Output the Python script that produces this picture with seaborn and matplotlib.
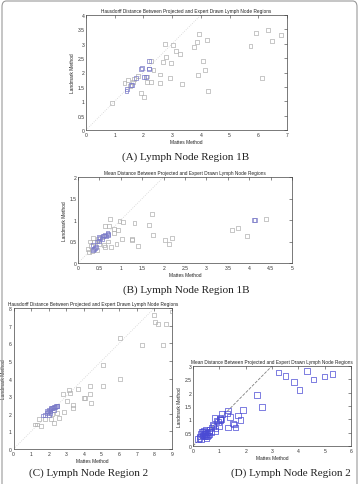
import numpy as np
import pandas as pd
import matplotlib
matplotlib.use('Agg')
import matplotlib.pyplot as plt
import seaborn as sns
from matplotlib.patches import FancyBboxPatch

# ---- data ----
# (A) Hausdorff, region 1B
a_gray_x = [0.91, 1.34, 1.47, 1.52, 1.64, 1.67, 1.82, 1.91, 2.02, 2.11, 2.11, 2.26, 2.26, 2.35, 2.59, 2.59,
            2.68, 2.76, 2.80, 2.91, 2.95, 3.04, 3.12, 3.28, 3.35, 3.76, 3.88, 3.91, 3.94, 4.08, 4.16, 4.21,
            4.24, 5.73, 5.92, 6.12, 6.33, 6.47, 6.80]
a_gray_y = [0.95, 1.63, 1.74, 1.54, 1.66, 1.76, 1.89, 1.28, 1.14, 1.86, 1.68, 1.68, 2.40, 2.09, 1.93, 1.62,
            2.37, 2.99, 2.53, 1.81, 2.32, 2.96, 2.75, 2.64, 1.61, 2.90, 3.06, 1.92, 3.34, 2.41, 2.09, 3.13,
            1.35, 2.91, 3.36, 1.81, 3.47, 3.11, 3.30]
a_blue_x = [1.41, 1.43, 1.60, 1.57, 1.73, 1.93, 1.94, 2.02, 2.10, 2.18, 2.19, 2.21]
a_blue_y = [1.37, 1.41, 1.57, 1.55, 1.81, 2.11, 2.15, 1.83, 1.84, 2.40, 2.14, 2.11]

# (B) mean distance, region 1B
b_gray_x = [0.75, 0.97, 1.06, 1.32, 1.66, 1.72, 1.76, 1.26, 0.90, 1.03, 1.27, 1.41, 0.78, 0.62, 0.73, 0.84,
            0.94, 0.85, 2.04, 2.12, 2.19, 3.60, 3.74, 3.95, 4.39, 0.23, 0.30, 0.32, 0.26, 0.60, 0.64, 0.47,
            0.34, 0.38, 0.55, 0.50, 0.28, 0.70, 0.45]
b_gray_y = [1.02, 0.98, 0.95, 0.92, 0.88, 1.13, 0.66, 0.55, 0.45, 0.56, 0.54, 0.40, 0.38, 0.85, 0.85, 0.80,
            0.76, 0.70, 0.53, 0.45, 0.59, 0.77, 0.82, 0.62, 1.03, 0.32, 0.40, 0.27, 0.25, 0.42, 0.38, 0.56,
            0.58, 0.49, 0.60, 0.45, 0.50, 0.50, 0.30]
b_blue_x = [0.69, 0.71, 0.70, 0.60, 0.65, 0.55, 0.50, 0.45, 0.40, 0.38, 0.42, 0.35, 0.48, 0.52, 0.58, 0.62,
            0.35, 4.12, 4.14]
b_blue_y = [0.69, 0.68, 0.66, 0.64, 0.62, 0.55, 0.52, 0.50, 0.35, 0.33, 0.37, 0.30, 0.60, 0.58, 0.62, 0.66,
            0.42, 1.01, 1.00]

# (C) Hausdorff, region 2
c_gray_x = [1.22, 1.35, 1.47, 1.56, 1.77, 2.11, 2.32, 2.57, 2.79, 2.85, 3.02, 3.17, 3.21, 3.40, 3.40, 3.68,
            4.00, 4.08, 4.35, 4.37, 4.39, 5.09, 5.10, 6.03, 6.03, 7.30, 7.97, 8.04, 8.23, 8.51, 8.66, 8.98,
            2.20, 2.45]
c_gray_y = [1.39, 1.39, 1.68, 1.33, 1.68, 1.70, 1.47, 1.78, 3.10, 2.10, 2.70, 3.33, 3.20, 2.50, 2.30, 3.40,
            2.90, 2.90, 3.55, 3.10, 2.60, 3.60, 4.76, 3.97, 6.30, 5.88, 7.59, 7.23, 7.07, 5.88, 7.07, 7.80,
            2.00, 2.05]
c_blue_x = [1.70, 1.80, 1.88, 1.95, 2.00, 2.05, 2.10, 2.15, 2.20, 2.25, 2.30, 2.35, 2.40, 2.45, 2.50, 1.90,
            2.10, 2.00, 2.28]
c_blue_y = [1.90, 1.95, 2.05, 2.10, 2.20, 2.15, 2.25, 2.30, 2.30, 2.35, 2.40, 2.40, 2.45, 2.45, 2.45, 2.15,
            2.05, 1.95, 2.20]

# (D) mean distance, region 2
d_x = [3.24, 3.52, 3.84, 4.05, 4.32, 4.57, 5.00, 5.29, 2.43, 2.61, 1.90, 1.70, 1.80, 1.62, 1.55, 1.52,
       1.41, 1.33, 1.30, 1.32, 1.10, 1.04, 1.02, 1.06, 1.03, 0.99, 0.82, 0.89, 0.85, 0.84, 0.75, 0.70,
       0.63, 0.69, 0.50, 0.54, 0.44, 0.38, 0.30, 0.36, 0.27, 0.18, 0.30, 0.43, 0.47, 0.40, 0.45, 0.50,
       0.55, 0.60, 0.35, 0.42, 0.58, 0.62, 0.52, 0.25, 0.48, 0.95, 0.78]
d_y = [2.76, 2.63, 2.41, 2.10, 2.81, 2.50, 2.61, 2.70, 1.92, 1.46, 1.35, 1.15, 0.98, 0.69, 0.81, 0.84,
       1.09, 1.33, 1.22, 0.69, 1.19, 1.05, 1.02, 1.00, 0.98, 0.75, 1.04, 0.93, 0.66, 0.57, 0.81, 0.69,
       0.60, 0.52, 0.59, 0.37, 0.47, 0.53, 0.47, 0.40, 0.35, 0.27, 0.25, 0.35, 0.45, 0.42, 0.50, 0.45,
       0.50, 0.55, 0.55, 0.58, 0.40, 0.45, 0.30, 0.30, 0.38, 0.90, 0.75]

title_h = 'Hausdorff Distance Between Projected and Expert Drawn Lymph Node Regions'
title_m = 'Mean Distance Between Projected and Expert Drawn Lymph Node Regions'
captions = ['(A) Lymph Node Region 1B', '(B) Lymph Node Region 1B',
            '(C) Lymph Node Region 2', '(D) Lymph Node Region 2']

GRAY = '#b0b0b0'
BLUE = '#7a7ac8'
BLUE_D = '#4a4ad4'

W, H = 359, 485
sns.set_style('white')
plt.rcParams['font.family'] = ['Liberation Sans', 'DejaVu Sans']
fig = plt.figure(figsize=(W / 100, H / 100), dpi=100)


def add_ax(l, r, t, b):
    return fig.add_axes([l / W, 1 - b / H, (r - l) / W, (b - t) / H])


def make_df(gx, gy, bx, by):
    return pd.DataFrame({'x': list(gx) + list(bx), 'y': list(gy) + list(by),
                         'grp': ['gray'] * len(gx) + ['blue'] * len(bx)})


def panel(ax, df, pal, size, xmax, ymax, xticks, yticks, diag, title, diag_style):
    sns.scatterplot(data=df, x='x', y='y', hue='grp', palette=pal, marker='s', s=size,
                    linewidth=0.5, legend=False, ax=ax, zorder=3)
    for coll in ax.collections:
        fc = coll.get_facecolors()
        coll.set_edgecolors(fc)
        coll.set_facecolors('none')
    ax.plot([0, diag], [0, diag], diag_style[0], color=diag_style[1], lw=0.6, zorder=2)
    ax.set_xlim(0, xmax)
    ax.set_ylim(0, ymax)
    ax.set_xticks(xticks)
    ax.set_yticks(yticks)
    ax.set_xticklabels([('%g' % v) for v in xticks])
    ax.set_yticklabels([('%g' % v) for v in yticks])
    ax.tick_params(direction='in', length=2, width=0.4, labelsize=3.6, pad=1.2,
                   top=True, right=True, colors='#333333')
    for sp in ax.spines.values():
        sp.set_linewidth(0.5)
        sp.set_color('#444444')
    ax.set_title(title, fontsize=3.4, pad=2.5, color='#222222')
    ax.set_xlabel('Mattes Method', fontsize=3.5, labelpad=1.5, color='#222222')
    ax.set_ylabel('Landmark Method', fontsize=3.5, labelpad=2, color='#222222')


axA = add_ax(86, 287, 16, 131)
panel(axA, make_df(a_gray_x, a_gray_y, a_blue_x, a_blue_y), {'gray': GRAY, 'blue': BLUE}, 8,
      7, 4, np.arange(0, 8, 1), np.arange(0, 4.5, 0.5), 4, title_h, (':', '#d2d2d2'))

axB = add_ax(78, 292, 178, 264)
panel(axB, make_df(b_gray_x, b_gray_y, b_blue_x, b_blue_y), {'gray': GRAY, 'blue': BLUE}, 8,
      5, 2, np.arange(0, 5.5, 0.5), np.arange(0, 2.5, 0.5), 2, title_m, (':', '#d2d2d2'))

axC = add_ax(13.5, 172, 309, 450)
panel(axC, make_df(c_gray_x, c_gray_y, c_blue_x, c_blue_y), {'gray': GRAY, 'blue': BLUE}, 8,
      9, 8, np.arange(0, 10, 1), np.arange(0, 9, 1), 8, title_h, (':', '#d2d2d2'))

axD = add_ax(193, 351, 367, 447)
panel(axD, make_df([], [], d_x, d_y), {'gray': GRAY, 'blue': BLUE_D}, 16,
      6, 3, np.arange(0, 7, 1), np.arange(0, 3.5, 0.5), 3, title_m, ('--', '#808080'))

# captions
cap_kw = dict(fontsize=8, family=['Liberation Serif', 'DejaVu Serif'], color='#222222',
              ha='center', va='center')
fig.text(186 / W, 1 - 157 / H, captions[0], **cap_kw)
fig.text(186 / W, 1 - 290 / H, captions[1], **cap_kw)
fig.text(89 / W, 1 - 473 / H, captions[2], **cap_kw)
fig.text(291 / W, 1 - 473 / H, captions[3], **cap_kw)

# frame around the figure
frame = FancyBboxPatch((2 / W, -0.02), 1 - 4 / W, 1 - 2 / H + 0.02,
                       boxstyle='round,pad=0,rounding_size=0.012', transform=fig.transFigure,
                       fill=False, edgecolor='#9a9a9a', linewidth=0.8)
fig.patches.append(frame)

fig.savefig('out.png', dpi=100)
